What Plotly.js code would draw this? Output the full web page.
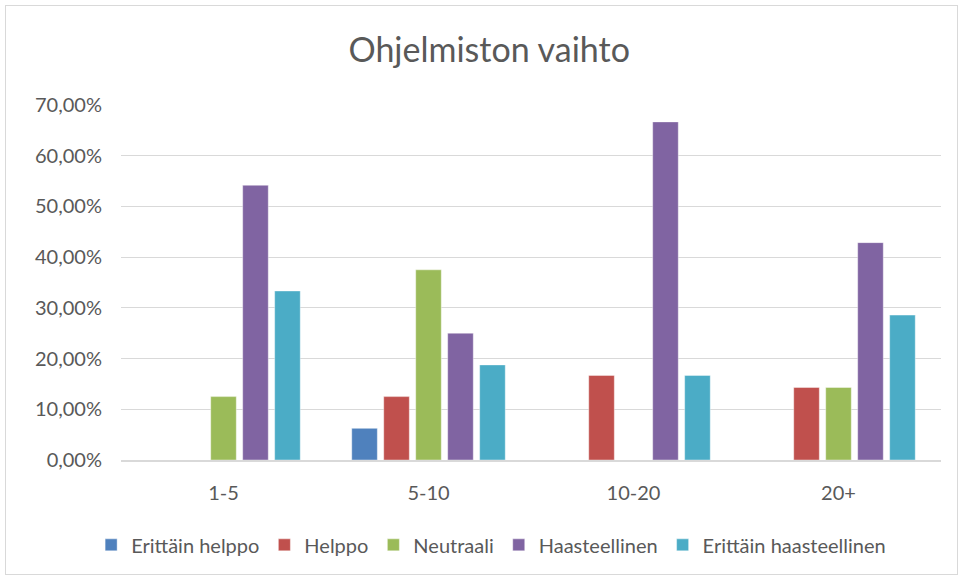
<!DOCTYPE html>
<html><head><meta charset="utf-8">
<script src="https://cdn.plot.ly/plotly-3.0.1.min.js"></script>
<style>
html,body{margin:0;padding:0;background:#fff;}
#wrap{position:relative;width:963px;height:579px;}
#chart{width:963px;height:579px;}
#border{position:absolute;left:5px;top:5px;width:951px;height:568px;border:1px solid #d9d9d9;pointer-events:none;}
</style></head>
<body><div id="wrap"><div id="chart"></div><div id="border"></div></div>
<script>
const categories = ["1-5", "5-10", "10-20", "20+"];
const seriesNames = ["Erittäin helppo", "Helppo", "Neutraali", "Haasteellinen", "Erittäin haasteellinen"];
const erittainHelppo = [0, 0.0625, 0, 0];
const helppo = [0, 0.125, 0.1667, 0.1429];
const neutraali = [0.125, 0.375, 0, 0.1429];
const haasteellinen = [0.5417, 0.25, 0.6667, 0.4286];
const erittainHaasteellinen = [0.3333, 0.1875, 0.1667, 0.2857];
const colors = ["#4f81bd", "#c0504d", "#9bbb59", "#8064a2", "#4bacc6"];
const yTicks = [0, 0.1, 0.2, 0.3, 0.4, 0.5, 0.6, 0.7];

const seriesValues = [erittainHelppo, helppo, neutraali, haasteellinen, erittainHaasteellinen];
const traces = seriesValues.map((vals, i) => ({
  type: 'bar', x: categories, y: vals, name: seriesNames[i],
  marker: {color: colors[i], line: {color: 'rgba(255,255,255,0.4)', width: 1}},
  hoverinfo: 'skip'
}));

const font = "Lato, 'Open Sans', sans-serif";
const layout = {
  width: 963, height: 579,
  margin: {l: 121, r: 22, t: 105, b: 119, autoexpand: false},
  paper_bgcolor: '#fff', plot_bgcolor: '#fff',
  separators: ',.',
  font: {family: font, color: '#595959', size: 16},
  title: {text: 'Ohjelmiston vaihto', font: {family: font, size: 34, color: '#595959'},
          x: 0.508, xanchor: 'center', y: 0.914, yanchor: 'middle', xref: 'container', yref: 'container'},
  barmode: 'group', bargap: 0.22, bargroupgap: 0.2,
  xaxis: {type: 'category', automargin: false, showgrid: false, zeroline: false, showline: true, linecolor: '#d9d9d9', linewidth: 2,
          ticks: '', tickfont: {size: 20, color: '#595959'}, ticklabelstandoff: 14},
  yaxis: {range: [0, 0.7], automargin: false, tickvals: yTicks, tickformat: '.2%', showgrid: true, gridcolor: '#d9d9d9', gridwidth: 1,
          zeroline: false, showline: false, ticks: '', tickfont: {size: 20, color: '#595959'}, ticklabelstandoff: 18},
  legend: {orientation: 'h', xref: 'container', x: 0.51, xanchor: 'center', y: -0.239, yanchor: 'middle',
           font: {size: 20, color: '#595959'}, itemclick: false, traceorder: 'normal', itemwidth: 30},
  showlegend: true
};
Plotly.newPlot('chart', traces, layout, {displayModeBar: false, staticPlot: true});
</script></body></html>
